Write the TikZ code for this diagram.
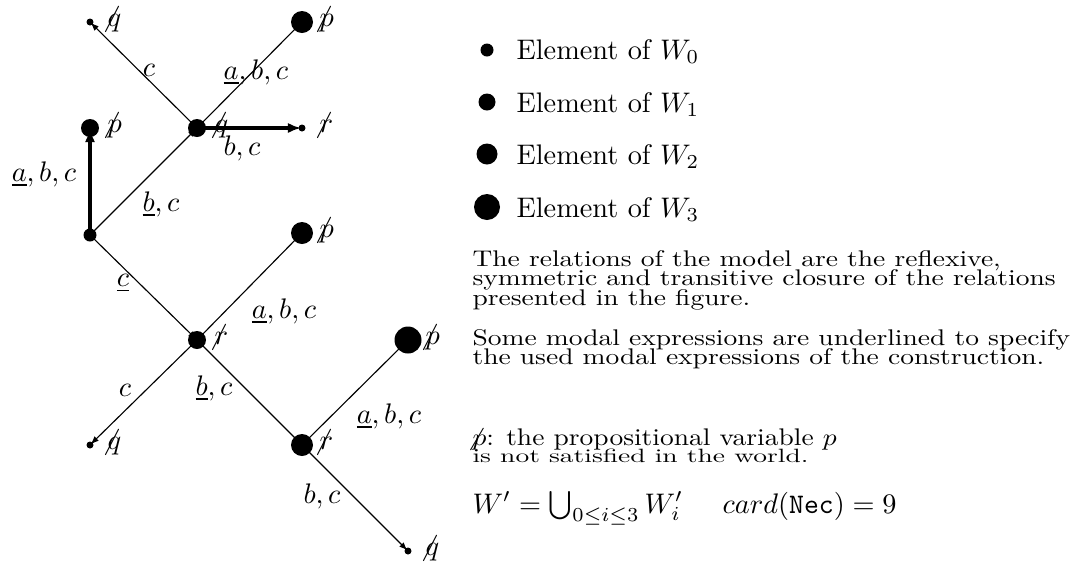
\documentclass[tikz,border=0pt]{standalone}
\usepackage{tikz}
\usetikzlibrary{arrows.meta}
\newcommand{\nt}[1]{\ensuremath{\mkern-4mu\not\mathrel{\mkern4mu #1}}}
\newcommand{\pline}[2][0.8]{\scalebox{0.972}[#1]{#2}}
\begin{document}
\begin{tikzpicture}[x=0.3534pt, y=-0.3534pt,
  wdot/.style={circle, fill=black, inner sep=0pt, minimum size=#1*0.3534pt},
  lbl/.style={inner sep=0pt},
  vlbl/.style={inner sep=0pt, anchor=west},
  para/.style={inner sep=0pt, anchor=base west},
  thin/.style={line width=0.4pt},
  arr/.style={line width=0.4pt, -{Latex[length=2.9pt,width=2.2pt]}, shorten >=0.35pt},
  thickarr/.style={line width=1.2pt, -{Latex[length=4.6pt,width=3.6pt]}, shorten >=0.35pt}]
\useasboundingbox (0,0) rectangle (1074,568);
% worlds (positions)
\coordinate (A) at (90,235);
\coordinate (B) at (90,128);
\coordinate (C) at (197,128);
\coordinate (D) at (302,22);
\coordinate (E) at (90,22);
\coordinate (F) at (302,128);
\coordinate (G) at (197,340);
\coordinate (H) at (302,233);
\coordinate (I) at (90,445);
\coordinate (J) at (302,445);
\coordinate (K) at (408,340);
\coordinate (L) at (408,551);
% edge labels
\node[lbl] (lAB) at (44,174) {$\underline{a}, b, c$};
\node[lbl] (lAC) at (161,204) {$\underline{b}, c$};
\node[lbl] (lCE) at (149,70) {$c$};
\node[lbl] (lCD) at (256,72) {$\underline{a}, b, c$};
\node[lbl] (lCF) at (242,148) {$b, c$};
\node[lbl] (lAG) at (123,283) {$\underline{c}$};
\node[lbl] (lGH) at (284,311) {$\underline{a}, b, c$};
\node[lbl] (lGI) at (125,390) {$c$};
\node[lbl] (lGJ) at (214,388) {$\underline{b}, c$};
\node[lbl] (lJK) at (389,416) {$\underline{a}, b, c$};
\node[lbl] (lJL) at (322,496) {$b, c$};
% edges
\draw[thickarr] (A) -- (B);
\draw[arr] (A) -- (C);
\draw[arr] (C) -- (E);
\draw[thin] (C) -- (D);
\draw[thickarr] (C) -- (F);
\draw[arr] (A) -- (G);
\draw[thin] (G) -- (H);
\draw[arr] (G) -- (I);
\draw[arr] (G) -- (J);
\draw[thin] (J) -- (K);
\draw[arr] (J) -- (L);
% dots
\node[wdot=13] (wA) at (A) {};
\node[wdot=18] (wB) at (B) {};
\node[wdot=18] (wC) at (C) {};
\node[wdot=22] (wD) at (D) {};
\node[wdot=7] (wE) at (E) {};
\node[wdot=7] (wF) at (F) {};
\node[wdot=18] (wG) at (G) {};
\node[wdot=22] (wH) at (H) {};
\node[wdot=7] (wI) at (I) {};
\node[wdot=22] (wJ) at (J) {};
\node[wdot=27] (wK) at (K) {};
\node[wdot=7] (wL) at (L) {};
% world labels
\node[vlbl] (vB) at (107,125) {\nt{p}};
\node[vlbl] (vC) at (214,125) {\nt{q}};
\node[vlbl] (vD) at (319,19) {\nt{p}};
\node[vlbl] (vE) at (107,19) {\nt{q}};
\node[vlbl] (vF) at (319,125) {\nt{r}};
\node[vlbl] (vG) at (214,337) {\nt{r}};
\node[vlbl] (vH) at (319,230) {\nt{p}};
\node[vlbl] (vI) at (107,442) {\nt{q}};
\node[vlbl] (vJ) at (319,442) {\nt{r}};
\node[vlbl] (vK) at (425,337) {\nt{p}};
\node[vlbl] (vL) at (425,548) {\nt{q}};
% legend
\node[wdot=13] (k0) at (487,50) {};
\node[wdot=17] (k1) at (487,102) {};
\node[wdot=21] (k2) at (487,154) {};
\node[wdot=26] (k3) at (487,207) {};
\node[para] (e0) at (516,59) {Element of $W_0$};
\node[para] (e1) at (516,112) {Element of $W_1$};
\node[para] (e2) at (516,164) {Element of $W_2$};
\node[para] (e3) at (516,217) {Element of $W_3$};
% texts
\node[para] (p1) at (472,266) {\pline{The relations of the model are the reflexive,}};
\node[para] (p2) at (472,285.5) {\pline{symmetric and transitive closure of the relations}};
\node[para] (p3) at (472,305) {\pline{presented in the figure.}};
\node[para] (p4) at (472,345) {\pline{Some modal expressions are underlined to specify}};
\node[para] (p5) at (472,364.5) {\pline{the used modal expressions of the construction.}};
\node[para] (p6) at (472,445) {\pline[0.85]{\nt{p}: the propositional variable $p$}};
\node[para] (p7) at (472,462) {\pline[0.68]{is not satisfied in the world.}};
\node[para] (p8) at (472,513) {$W' = \bigcup_{0\leq i\leq 3} W_i'$\hspace{14pt}$card(\texttt{Nec}) = 9$};
\end{tikzpicture}
\end{document}
